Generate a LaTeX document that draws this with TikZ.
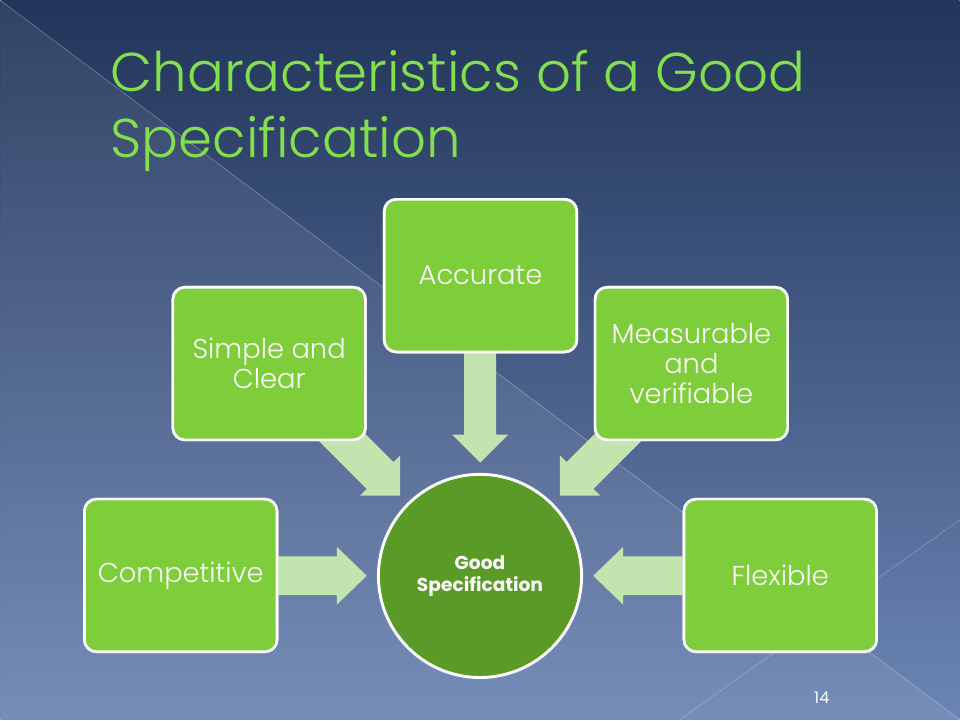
\documentclass[tikz,border=0pt]{standalone}
\usepackage{fontspec}
\setmainfont{Poppins}
\newfontfamily\poplight{Poppins Light}
\usetikzlibrary{calc}
\definecolor{bgtop}{HTML}{22355A}
\definecolor{bgbot}{HTML}{6B85B4}
\definecolor{boxgreen}{HTML}{7DCE3A}
\definecolor{circgreen}{HTML}{5A9A27}
\definecolor{arrowgreen}{HTML}{C3E4AE}
\definecolor{titlegreen}{HTML}{84DF4D}
\newcommand\blockarrow[6]{%
  \begin{scope}[shift={(#1)}, rotate=#2]
    \fill[arrowgreen] (0,0) -- (-#5,#4) -- (-#5,#3) -- (-#6,#3) -- (-#6,-#3)
      -- (-#5,-#3) -- (-#5,-#4) -- cycle;
  \end{scope}}
\begin{document}
\begin{tikzpicture}[x=0.75pt,y=-0.75pt,
  itembox/.style={rectangle, rounded corners=9pt, draw=white, line width=2pt,
    fill=boxgreen, minimum width=144.5pt, minimum height=114.5pt, text=white,
    font=\poplight\fontsize{20.5}{22.5}\selectfont, align=center, inner sep=2pt},
  hub/.style={circle, draw=white, line width=2.2pt, fill=circgreen,
    minimum size=152.5pt, inner sep=0pt, text=white, align=center,
    font=\bfseries\fontsize{14}{16.5}\selectfont},
  titletext/.style={text=titlegreen, font=\poplight\fontsize{41}{49}\selectfont,
    align=left, inner sep=0pt, anchor=base west}]
% background
\shade[top color=bgtop, bottom color=bgbot] (0,0) rectangle (960,720);
\fill[white, opacity=0.07] (0,0) -- (960,720) -- (0,720) -- cycle;
\draw[white, opacity=0.3, line width=0.5pt] (0,0) -- (960,720);
\draw[white, opacity=0.25, line width=0.5pt] (960,520) -- (680,720);
\useasboundingbox (0,0) rectangle (960,720);
% title
\node[titletext] (title) at (110,157) {Characteristics of a Good\\Specification};
% hub
\node[hub] (gs) at (480,576) {Good\\Specification};
% box placeholders (for arrow geometry)
\node[itembox] (comp) at (180.5,575.5) {};
\node[itembox] (simp) at (269,363.5) {};
\node[itembox] (accu) at (480.5,275.5) {};
\node[itembox] (meas) at (691.5,363.5) {};
\node[itembox] (flex) at (780.5,575.5) {};
\coordinate (tipC) at ($(gs.center)!85pt!(comp.center)$);
\coordinate (tipS) at ($(gs.center)!85pt!(simp.center)$);
\coordinate (tipA) at ($(gs.center)!85pt!(accu.center)$);
\coordinate (tipM) at ($(gs.center)!85pt!(meas.center)$);
\coordinate (tipF) at ($(gs.center)!85pt!(flex.center)$);
% arrows
\blockarrow{tipC}{0}{19.5}{29}{30}{150}
\blockarrow{tipS}{-45}{19}{28.5}{28.5}{150}
\blockarrow{tipA}{-90}{16}{28}{28}{150}
\blockarrow{tipM}{-135}{19}{28.5}{28.5}{150}
\blockarrow{tipF}{180}{19.5}{29}{30}{150}
% boxes on top
\node[itembox] at (comp) {Competitive};
\node[itembox] at (simp) {Simple and\\Clear};
\node[itembox] at (accu) {Accurate};
\node[itembox] at (meas) {Measurable\\and\\verifiable};
\node[itembox] at (flex) {Flexible};
% page number
\node[text=white, font=\fontsize{12}{14}\selectfont] (pg) at (822,698) {14};
\end{tikzpicture}
\end{document}
